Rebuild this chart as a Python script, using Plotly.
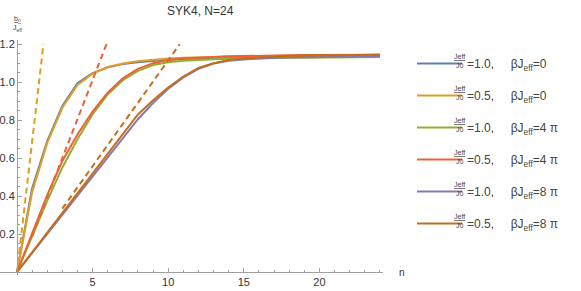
import plotly.graph_objects as go

# ---------------- data ----------------
n_vals = list(range(25))

b_J10_beta0 = [0, 0.44, 0.69, 0.875, 0.995, 1.048, 1.078, 1.095, 1.105, 1.112, 1.118, 1.122, 1.126,
               1.128, 1.130, 1.132, 1.133, 1.134, 1.135, 1.136, 1.137, 1.137, 1.138, 1.138, 1.139]
b_J05_beta0 = [0, 0.42, 0.68, 0.865, 0.985, 1.045, 1.08, 1.098, 1.11, 1.118, 1.124, 1.128, 1.131,
               1.133, 1.135, 1.137, 1.138, 1.139, 1.14, 1.141, 1.142, 1.141, 1.143, 1.142, 1.144]
b_J10_beta4 = [0, 0.19, 0.375, 0.55, 0.70, 0.83, 0.935, 1.01, 1.06, 1.09, 1.105, 1.113, 1.118,
               1.121, 1.123, 1.125, 1.126, 1.127, 1.128, 1.129, 1.13, 1.13, 1.131, 1.131, 1.132]
b_J05_beta4 = [0, 0.205, 0.405, 0.585, 0.725, 0.845, 0.945, 1.02, 1.07, 1.10, 1.116, 1.125, 1.13,
               1.133, 1.136, 1.138, 1.139, 1.141, 1.142, 1.143, 1.143, 1.144, 1.144, 1.145, 1.145]
b_J10_beta8 = [0, 0.1, 0.2, 0.3, 0.4, 0.5, 0.6, 0.7, 0.805, 0.89, 0.965, 1.025, 1.07,
               1.098, 1.113, 1.12, 1.125, 1.128, 1.13, 1.132, 1.133, 1.134, 1.134, 1.135, 1.136]
b_J05_beta8 = [0, 0.104, 0.208, 0.312, 0.415, 0.518, 0.62, 0.722, 0.83, 0.905, 0.972, 1.03, 1.075,
               1.1, 1.117, 1.126, 1.131, 1.135, 1.138, 1.14, 1.141, 1.142, 1.143, 1.143, 1.144]

series_values = [b_J10_beta0, b_J05_beta0, b_J10_beta4, b_J05_beta4, b_J10_beta8, b_J05_beta8]
ratio_labels = ["1.0", "0.5", "1.0", "0.5", "1.0", "0.5"]
beta_labels = ["0", "0", "4\u00a0π", "4\u00a0π", "8\u00a0π", "8\u00a0π"]
series_colors = ["#5E81B5", "#E19C24", "#8FB032", "#EB6235", "#8778B3", "#C56E1A"]

# linear fits (dashed): slope, intercept, n start, n end
fit_slopes = [0.685, 0.2056, 0.1115]
fit_intercepts = [0.0, -0.017, 0.0]
fit_n_start = [0.07, 1.0, 3.0]
fit_n_end = [1.752, 5.92, 10.76]
fit_colors = ["#E19C24", "#EB6235", "#C56E1A"]

x_ticks = [5, 10, 15, 20]
y_ticks = [0.2, 0.4, 0.6, 0.8, 1.0, 1.2]

# ---------------- figure ----------------
xr = [-1.12, 24.2]
yr = [-0.015, 1.222]
PW, PH, PT = 383, 235.5, 40  # plot-area size and top margin (px)

fig = go.Figure()
for vals, col, rl, bl in zip(series_values, series_colors, ratio_labels, beta_labels):
    name = "=" + rl + ",\u00a0\u00a0\u00a0\u00a0\u00a0βJ<sub>eff</sub>=" + bl
    fig.add_trace(go.Scatter(x=n_vals, y=vals, mode="lines", name=name,
                             line=dict(color=col, width=2)))

for s, c, a, b, col in zip(fit_slopes, fit_intercepts, fit_n_start, fit_n_end, fit_colors):
    xs = [a, b]
    ys = [s * v + c for v in xs]
    fig.add_trace(go.Scatter(x=xs, y=ys, mode="lines", showlegend=False,
                             line=dict(color=col, width=2, dash="6px,4px")))

for i, tr in enumerate(fig.data[:6]):
    tr.legendgroup = f"g{i}"

axis_col = "#a0a0a0"
tick_font = dict(family="Liberation Sans, Arial", size=11, color="#333333")


def py(px):
    return (PT + PH - px) / PH


fig.update_layout(
    width=581, height=291,
    margin=dict(l=0, r=198, t=PT, b=15.5, autoexpand=False),
    plot_bgcolor="white", paper_bgcolor="white",
    showlegend=True,
    legend=dict(x=412 / PW, xanchor="left", y=py(49), yanchor="top", itemwidth=45,
                font=dict(family="Liberation Sans, Arial", size=12, color="#444444"),
                tracegroupgap=13, traceorder="grouped", bgcolor="rgba(0,0,0,0)"),
    xaxis=dict(range=xr, showgrid=False, zeroline=False, showline=True, linecolor=axis_col,
               linewidth=1, anchor="free", position=(0 - yr[0]) / (yr[1] - yr[0]),
               tickvals=x_ticks, ticks="inside", ticklen=4, tickcolor=axis_col,
               tickfont=tick_font,
               minor=dict(tickvals=[v for v in range(1, 25) if v % 5 != 0],
                          ticks="inside", ticklen=2, tickcolor=axis_col)),
    yaxis=dict(range=yr, showgrid=False, zeroline=False, showline=True, linecolor=axis_col,
               linewidth=1, anchor="free", position=(0 - xr[0]) / (xr[1] - xr[0]),
               tickvals=y_ticks, ticktext=[f"{v:.1f}" for v in y_ticks],
               ticks="inside", ticklen=4, tickcolor=axis_col, tickfont=tick_font,
               minor=dict(tickvals=[round(0.05 * k, 2) for k in range(1, 25) if k % 4 != 0],
                          ticks="inside", ticklen=2, tickcolor=axis_col)),
)

# title
fig.add_annotation(text="SYK4, N=24", xref="paper", yref="paper",
                   x=200 / PW, y=py(11), xanchor="center", yanchor="middle", showarrow=False,
                   font=dict(family="Liberation Sans, Arial", size=12, color="#333333"))
# axis labels
fig.add_annotation(text="<span style='text-decoration:underline'>b<sub>n</sub></span><br>J<sub>eff</sub>",
                   xref="paper", yref="paper", x=17 / PW, y=py(24),
                   xanchor="center", yanchor="middle",
                   showarrow=False, font=dict(family="Liberation Sans, Arial", size=7, color="#444444"))
fig.add_annotation(text="n", xref="paper", yref="paper", x=402 / PW,
                   y=(0 - yr[0]) / (yr[1] - yr[0]), xanchor="center", yanchor="middle",
                   showarrow=False,
                   font=dict(family="Liberation Sans, Arial", size=10, color="#333333"))
# fraction prefix in legend labels
for i in range(6):
    fig.add_annotation(text="<span style='text-decoration:underline'>Jeff</span><br>J0",
                       xref="paper", yref="paper", x=459.5 / PW,
                       y=py(61 + 32 * i), xanchor="center", yanchor="middle", showarrow=False,
                       font=dict(family="Liberation Sans, Arial", size=7, color="#444444"))

fig.write_html("out.html", config={"displayModeBar": False},
               post_script="document.body.style.margin='0px';")
